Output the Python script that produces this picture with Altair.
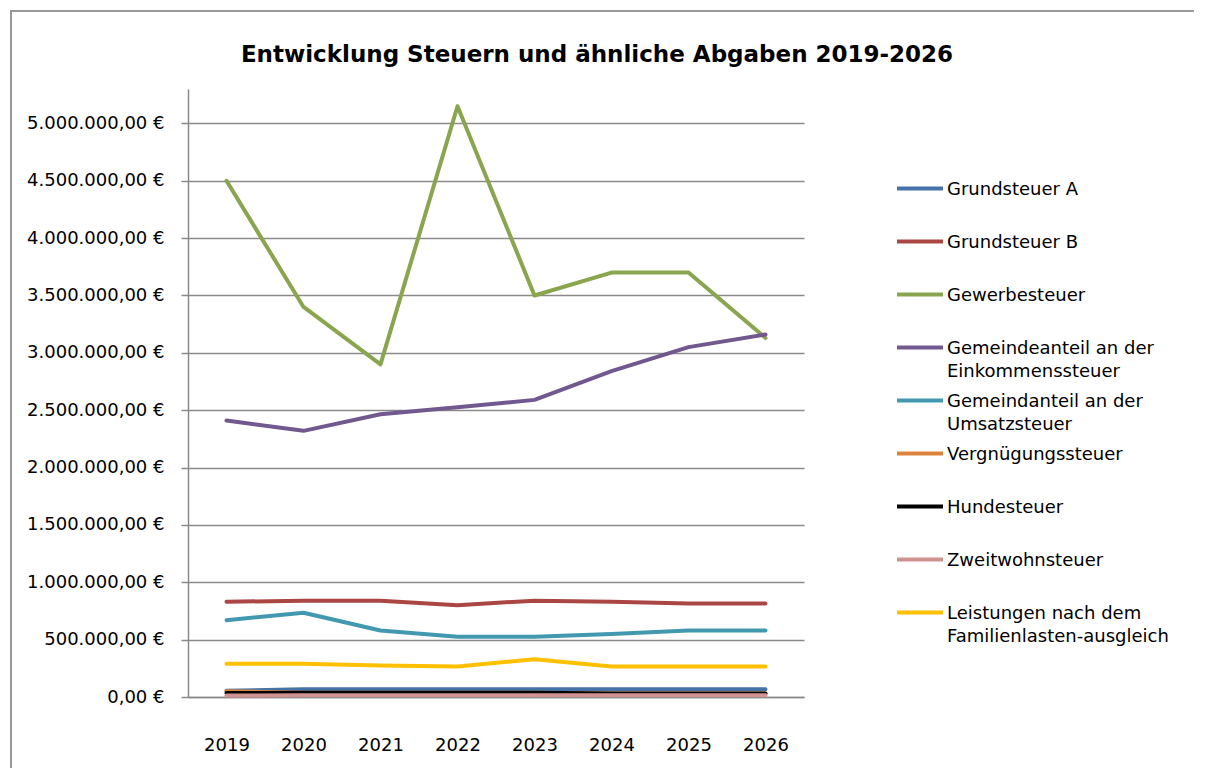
import altair as alt
import pandas as pd

years = [2019, 2020, 2021, 2022, 2023, 2024, 2025, 2026]

series_names = [
    "Grundsteuer A",
    "Grundsteuer B",
    "Gewerbesteuer",
    "Gemeindeanteil an der|Einkommenssteuer",
    "Gemeindanteil an der|Umsatzsteuer",
    "Vergnügungssteuer",
    "Hundesteuer",
    "Zweitwohnsteuer",
    "Leistungen nach dem|Familienlasten-ausgleich",
]
series_colors = ["#4572A7", "#AA4643", "#89A54E", "#71588F", "#4198AF",
                 "#DB843D", "#000000", "#D09392", "#FFC000"]

grundsteuer_a = [55000, 67000, 67000, 67000, 67000, 67000, 67000, 67000]
grundsteuer_b = [830000, 840000, 840000, 800000, 840000, 830000, 815000, 815000]
gewerbesteuer = [4500000, 3400000, 2900000, 5150000, 3500000, 3700000, 3700000, 3130000]
einkommensteuer = [2410000, 2320000, 2465000, 2525000, 2590000, 2840000, 3050000, 3160000]
umsatzsteuer = [670000, 735000, 580000, 525000, 525000, 550000, 580000, 580000]
vergnuegungssteuer = [50000, 38000, 38000, 38000, 38000, 30000, 30000, 30000]
hundesteuer = [35000, 37000, 37000, 37000, 37000, 30000, 30000, 30000]
zweitwohnsteuer = [12000, 15000, 15000, 15000, 15000, 15000, 15000, 15000]
familienlasten = [290000, 290000, 275000, 265000, 330000, 265000, 265000, 265000]

y_ticks = [0, 500000, 1000000, 1500000, 2000000, 2500000,
           3000000, 3500000, 4000000, 4500000, 5000000]

all_values = [grundsteuer_a, grundsteuer_b, gewerbesteuer, einkommensteuer,
              umsatzsteuer, vergnuegungssteuer, hundesteuer, zweitwohnsteuer,
              familienlasten]

rows = []
for i, (name, vals) in enumerate(zip(series_names, all_values)):
    for yr, v in zip(years, vals):
        rows.append({"Jahr": str(yr), "Wert": v, "Serie": name, "order": i})
df = pd.DataFrame(rows)

FONT = "DejaVu Sans"
GRAY = "#8a8a8a"
FS = 18

lines = alt.Chart(df).mark_line(strokeWidth=4, strokeJoin="round", strokeCap="round").encode(
    x=alt.X("Jahr:O", title=None,
            scale=alt.Scale(type="point", padding=0.5),
            axis=alt.Axis(labelAngle=0, ticks=False, labelPadding=39,
                          labelFontSize=FS, labelFont=FONT, labelColor="#000000",
                          domainColor=GRAY, domainWidth=1.5, grid=False)),
    y=alt.Y("Wert:Q", title=None,
            scale=alt.Scale(domain=[0, 5300000], nice=False),
            axis=alt.Axis(values=y_ticks, tickSize=7, tickColor=GRAY, tickWidth=1.5,
                          labelPadding=17, labelFontSize=FS, labelFont=FONT,
                          labelColor="#000000",
                          labelExpr="replace(format(datum.value, ',d'), regexp(',', 'g'), '.') + ',00 €'",
                          domainColor=GRAY, domainWidth=1.5,
                          grid=True, gridColor=GRAY, gridWidth=1.5)),
    color=alt.Color("Serie:N", sort=series_names,
                    scale=alt.Scale(domain=series_names, range=series_colors),
                    legend=alt.Legend(
                        title=None, orient="none", legendX=707, legendY=81,
                        padding=0, labelFont=FONT, labelFontSize=FS,
                        labelColor="#000000", labelBaseline="alphabetic",
                        labelOffset=2,
                        labelExpr="length(split(datum.label, '|')) > 1 ? split(datum.label, '|') : [datum.label, ' ']",
                        symbolType="M-1,-0.28L1,-0.28", symbolSize=2116,
                        symbolStrokeWidth=4, rowPadding=-4.2, labelLimit=400)),
    order=alt.Order("order:Q"),
    detail="Serie:N",
)

frame_top = alt.Chart(alt.Data(values=[{}])).mark_rule(
    stroke="#999999", strokeWidth=2
).encode(x=alt.value(-178), x2=alt.value(1100), y=alt.value(-78))

frame_left = alt.Chart(alt.Data(values=[{}])).mark_rule(
    stroke="#999999", strokeWidth=2
).encode(x=alt.value(-177), y=alt.value(-79), y2=alt.value(800))

chart = alt.layer(frame_top, frame_left, lines).properties(
    width=616, height=608,
    title=alt.TitleParams(
        "Entwicklung Steuern und ähnliche Abgaben 2019-2026",
        font=FONT, fontSize=23, fontWeight="bold", color="#000000",
        anchor="middle", dx=101, dy=69, baseline="middle", offset=0, frame="group",
    ),
    autosize=alt.AutoSizeParams(type="none"),
    padding={"left": 180, "top": 81, "right": 390, "bottom": 71},
).configure(
    background="#ffffff",
    style={"guide-label": {"lineHeight": 23.4}},
).configure_view(strokeOpacity=0)

chart.save("out.html", embed_options={"renderer": "svg", "actions": False})
